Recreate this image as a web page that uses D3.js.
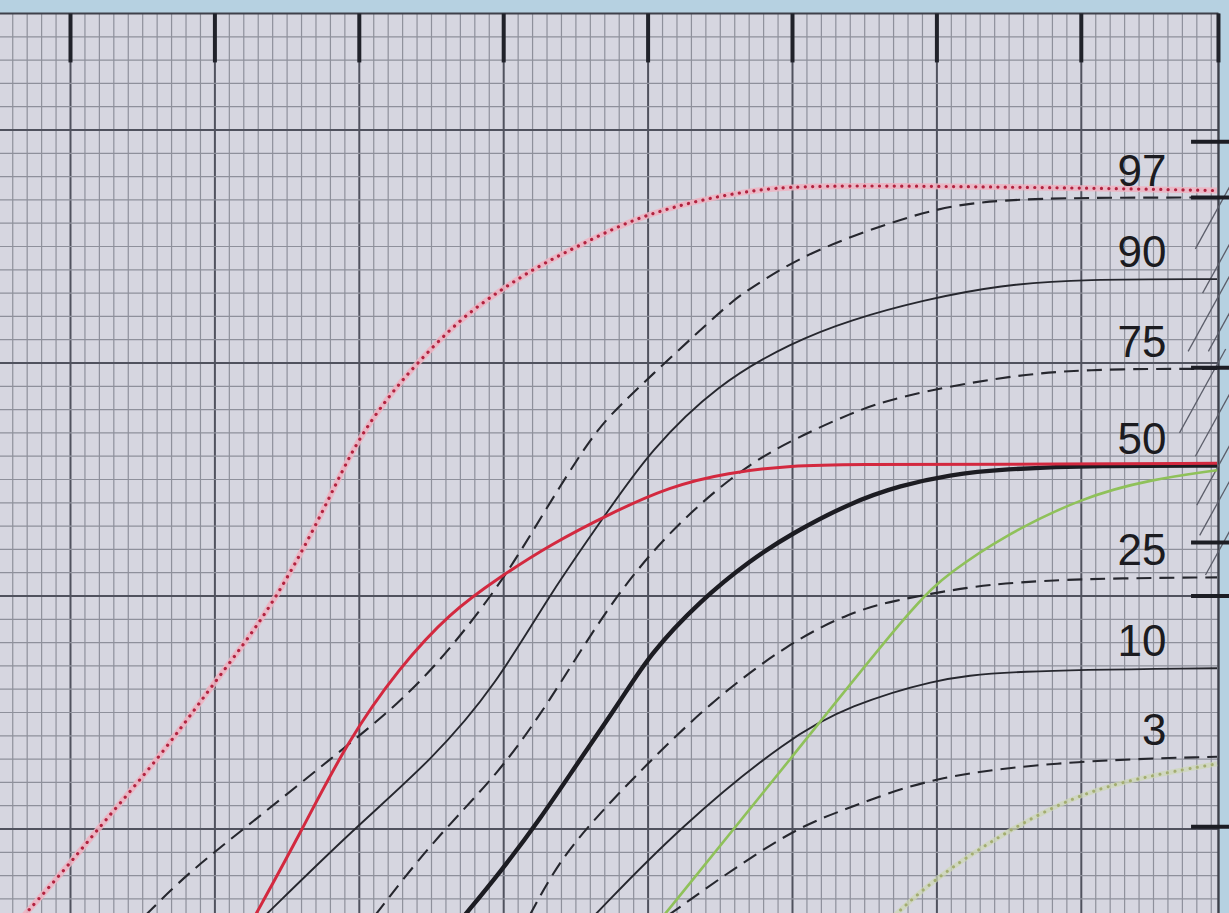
<!DOCTYPE html>
<html>
<head>
<meta charset="utf-8">
<script src="https://cdn.jsdelivr.net/npm/d3@7"></script>
<style>
  body { margin: 0; background: #b6d1e1; }
  svg { display: block; }
</style>
</head>
<body>
<div id="app"></div>
<script>
const width = 1229,
    height = 913;

// grid units: x = small squares from first heavy vertical line,
// y = small squares from the lowest heavy horizontal line
const xBorder = 79.5, yTop = 35;

const labels = ["97", "90", "75", "50", "25", "10", "3"];

const p97 = [[5.2,-3.7],[8.1,-1.9],[12.4,0.2],[18.2,3.1],[22.8,5.4],[26.3,7.7],[30.1,10.8],[32.5,13.3],[36.2,17.0],[38.1,18.2],[40.1,19.4],[43.6,21.4],[45.9,22.7],[47.1,23.2],[50.5,24.55],[55.2,25.7],[60.2,26.7],[64.4,27.0],[70.1,27.1],[79.4,27.1]];
const p90 = [[13.5,-3.7],[19.6,0.0],[25.1,3.0],[29.5,6.2],[33.2,10.1],[37.4,13.8],[40.1,16.2],[44.8,19.1],[50.0,20.9],[54.0,21.85],[59.0,22.7],[64.4,23.35],[70.1,23.6],[79.4,23.6]];
const p75 = [[21.1,-3.7],[25.1,-0.5],[29.7,2.4],[33.2,5.5],[36.7,9.05],[40.1,11.85],[43.8,14.1],[47.1,15.7],[50.0,16.7],[54.0,17.85],[57.5,18.6],[64.4,19.4],[70.1,19.75],[79.4,19.75]];
const p50 = [[27.3,-3.7],[29.7,-1.9],[32.5,0.4],[35.3,3.0],[38.1,5.5],[40.1,7.5],[43.6,9.8],[47.1,11.55],[50.0,12.7],[54.0,14.0],[57.5,14.75],[60.9,15.2],[64.4,15.45],[71.3,15.6],[79.4,15.6]];
const p25 = [[31.8,-3.7],[33.9,-1.3],[36.7,0.7],[39.7,2.65],[44.5,5.55],[49.8,8.0],[54.0,9.3],[57.0,9.8],[60.9,10.25],[64.4,10.55],[70.1,10.75],[79.4,10.8]];
const p10 = [[36.3,-3.7],[42.2,0.1],[49.8,3.95],[54.0,5.3],[59.7,6.4],[64.5,6.8],[79.4,6.9]];
const p3 = [[41.4,-3.7],[49.8,0.0],[54.0,0.9],[59.7,2.3],[69.9,2.95],[79.4,3.1]];

const redSolid = [[12.8,-3.7],[15.9,-0.2],[19.2,3.8],[22.8,6.95],[26.3,9.3],[29.7,10.8],[33.2,12.2],[37.4,13.55],[41.5,14.7],[45.5,15.3],[50.0,15.6],[54.0,15.65],[64.4,15.65],[79.4,15.7]];
const redDotted = [[-3.2,-3.7],[-0.2,-1.6],[2.3,0.3],[6.2,3.1],[9.5,5.9],[12.1,8.0],[14.2,9.9],[16.2,12.1],[18.0,14.3],[19.7,16.5],[21.8,18.4],[24.0,20.0],[27.0,21.9],[29.7,23.1],[32.5,24.2],[35.1,25.0],[37.7,25.8],[40.1,26.4],[43.6,27.0],[47.1,27.4],[50.5,27.6],[57.5,27.6],[64.4,27.55],[71.3,27.5],[79.4,27.4]];
const greenSolid = [[41.1,-3.7],[49.8,2.95],[58.6,9.8],[60.9,11.0],[64.4,12.5],[70.1,14.25],[74.8,15.0],[79.4,15.4]];
const greenDotted = [[57.1,-3.7],[59.7,-2.2],[64.5,-0.2],[69.9,1.55],[74.8,2.3],[79.4,2.8]];

// marks at the right edge and hatch strokes beside the labels
const rightTicks = [29.5, 27.1, 19.8, 12.3, 10.0, 0.1];
const hatchStarts = [[77.9,24.9],[78.4,23.0],[77.4,20.5],[78.8,20.5],[76.8,17.0],[77.9,16.0],[78.0,13.9],[78.2,12.6],[78.6,10.9]];

const x = d3.scaleLinear().domain([0, 10]).range([70.5, 214.9]);
const y = d3.scaleLinear().domain([0, 10]).range([829, 596]);

const svg = d3.select("#app")
    .append("svg")
    .attr("width", width)
    .attr("height", height);

svg.append("clipPath").attr("id", "paper")
    .append("rect")
    .attr("x", 0).attr("y", y(yTop))
    .attr("width", x(xBorder)).attr("height", height - y(yTop));

//paper
svg.append("rect")
    .attr("x", 0).attr("y", y(yTop))
    .attr("width", x(xBorder)).attr("height", height - y(yTop))
    .attr("fill", "#d6d6e0");

//grid
const grid = svg.append("g").attr("clip-path", "url(#paper)");

grid.selectAll("line.vx")
    .data(d3.range(-4, 80)).enter()
    .append("line")
    .attr("x1", d => x(d)).attr("x2", d => x(d))
    .attr("y1", y(yTop)).attr("y2", height)
    .attr("stroke", d => d % 10 === 0 ? "#50525e" : "#8e909b")
    .attr("stroke-width", d => d % 10 === 0 ? 2 : 1.2);

grid.selectAll("line.hy")
    .data(d3.range(-3, 35)).enter()
    .append("line")
    .attr("x1", 0).attr("x2", x(xBorder))
    .attr("y1", d => y(d)).attr("y2", d => y(d))
    .attr("stroke", d => d % 10 === 0 ? "#50525e" : "#8e909b")
    .attr("stroke-width", d => d % 10 === 0 ? 2 : 1.2);

//borders
svg.append("line")
    .attr("x1", 0).attr("x2", x(xBorder))
    .attr("y1", y(yTop)).attr("y2", y(yTop))
    .attr("stroke", "#3e404a").attr("stroke-width", 2.2);
svg.append("line")
    .attr("x1", x(xBorder)).attr("x2", x(xBorder))
    .attr("y1", y(yTop)).attr("y2", height)
    .attr("stroke", "#3e404a").attr("stroke-width", 2.4);

//top ticks
svg.selectAll("line.top")
    .data([0, 10, 20, 30, 40, 50, 60, 70, xBorder]).enter()
    .append("line")
    .attr("x1", d => x(d)).attr("x2", d => x(d))
    .attr("y1", y(yTop)).attr("y2", y(yTop - 2.1))
    .attr("stroke", "#20222a").attr("stroke-width", 4);

//hatch
svg.append("g").selectAll("line")
    .data(hatchStarts).enter()
    .append("line")
    .attr("x1", d => x(d[0])).attr("y1", d => y(d[1]))
    .attr("x2", d => x(d[0] + 3.2)).attr("y2", d => y(d[1] + 3.6))
    .attr("stroke", "#5c5e6a").attr("stroke-width", 1.3);

const line = d3.line()
    .x(d => x(d[0]))
    .y(d => y(d[1]))
    .curve(d3.curveBasis);

const curves = svg.append("g").attr("clip-path", "url(#paper)");

const dashed = [p97, p75, p25, p3];
const thin = [p90, p10];

curves.selectAll("path.thin")
    .data(thin).enter()
    .append("path")
    .attr("d", line)
    .attr("fill", "none")
    .attr("stroke", "#26272e")
    .attr("stroke-width", 1.9);

curves.selectAll("path.dash")
    .data(dashed).enter()
    .append("path")
    .attr("d", line)
    .attr("fill", "none")
    .attr("stroke", "#26272e")
    .attr("stroke-width", 2.1)
    .attr("stroke-dasharray", "15,8");

curves.append("path")
    .attr("d", line(p50))
    .attr("fill", "none")
    .attr("stroke", "#1c1c22")
    .attr("stroke-width", 4.4);

//green
curves.append("path")
    .attr("d", line(greenDotted))
    .attr("fill", "none")
    .attr("stroke", "#cdd7b4")
    .attr("stroke-width", 5)
    .attr("stroke-opacity", 0.7);
curves.append("path")
    .attr("d", line(greenDotted))
    .attr("fill", "none")
    .attr("stroke", "#a3ad70")
    .attr("stroke-width", 3)
    .attr("stroke-linecap", "round")
    .attr("stroke-dasharray", "0.1,7.5");
curves.append("path")
    .attr("d", line(greenSolid))
    .attr("fill", "none")
    .attr("stroke", "#8fc15a")
    .attr("stroke-width", 2.6);

//red
curves.append("path")
    .attr("d", line(redDotted))
    .attr("fill", "none")
    .attr("stroke", "#efb3c1")
    .attr("stroke-width", 6)
    .attr("stroke-opacity", 0.85);
curves.append("path")
    .attr("d", line(redDotted))
    .attr("fill", "none")
    .attr("stroke", "#b2223f")
    .attr("stroke-width", 3.2)
    .attr("stroke-linecap", "round")
    .attr("stroke-dasharray", "0.1,7.3");
curves.append("path")
    .attr("d", line(redSolid))
    .attr("fill", "none")
    .attr("stroke", "#d3293f")
    .attr("stroke-width", 3);

//labels above the curve ends
const ends = [p97, p90, p75, p50, p25, p10, p3].map(s => s[s.length - 1][1]);
svg.selectAll("text.lab")
    .data(labels).enter()
    .append("text")
    .attr("x", x(75.9))
    .attr("y", (d, i) => y(ends[i]) - 12)
    .attr("text-anchor", "end")
    .attr("font-family", "Liberation Sans, Arial, sans-serif")
    .attr("font-size", 44)
    .attr("fill", "#1b1b20")
    .text(d => d);

//right edge marks
svg.selectAll("line.rt")
    .data(rightTicks).enter()
    .append("line")
    .attr("x1", x(77.6)).attr("x2", width)
    .attr("y1", d => y(d)).attr("y2", d => y(d))
    .attr("stroke", "#1c1d24").attr("stroke-width", 4);
</script>
</body>
</html>
